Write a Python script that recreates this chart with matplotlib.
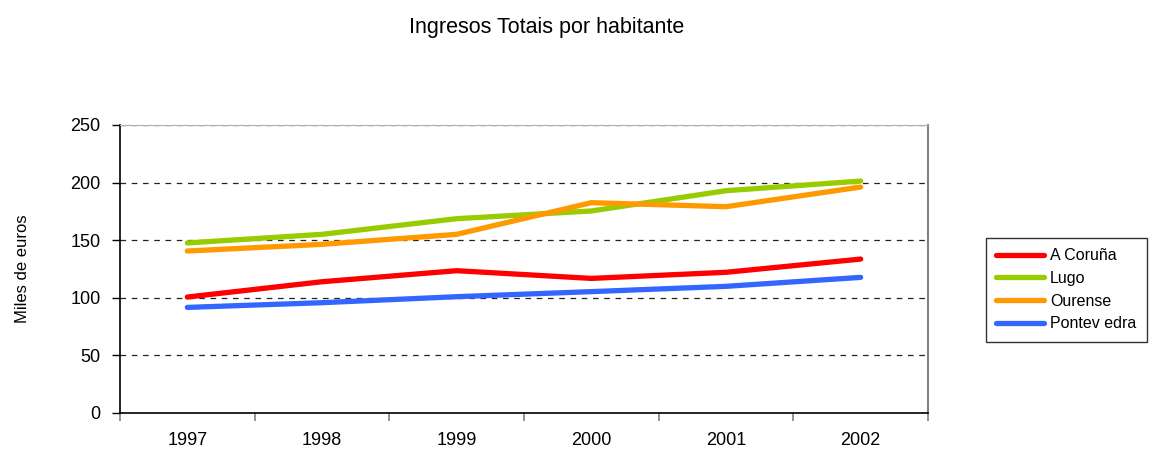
import matplotlib
matplotlib.use("Agg")
import matplotlib.pyplot as plt
from matplotlib.ticker import FixedLocator

years = ["1997", "1998", "1999", "2000", "2001", "2002"]
a_coruna = [100.5, 113.8, 123.4, 116.7, 122.0, 133.5]
lugo = [147.5, 155.0, 168.6, 175.3, 192.9, 201.3]
ourense = [140.5, 146.3, 155.0, 182.5, 179.0, 196.1]
pontevedra = [91.5, 95.6, 100.8, 105.2, 109.8, 117.6]
series_names = ["A Coruña", "Lugo", "Ourense", "Pontev edra"]
colors = ["#FF0000", "#99CC00", "#FF9900", "#3366FF"]
yticks = [0, 50, 100, 150, 200, 250]

plt.rcParams['font.family'] = ['Liberation Sans', 'DejaVu Sans']

fig = plt.figure(figsize=(11.51, 4.61), dpi=100)
ax = fig.add_axes([120/1151, 1 - 412.7/461, (928-120)/1151, (412.7-125)/461])

x = list(range(len(years)))
for vals, name, c in zip([a_coruna, lugo, ourense, pontevedra], series_names, colors):
    ax.plot(x, vals, color=c, lw=3.8, solid_capstyle='round', solid_joinstyle='round', label=name, zorder=3)

ax.set_xlim(-0.5, len(years) - 0.5)
ax.set_ylim(0, 250)
ax.set_yticks(yticks)
ax.set_yticklabels([str(v) for v in yticks], fontsize=13)
ax.set_xticks(x)
ax.set_xticklabels(years, fontsize=13)
ax.tick_params(axis='x', which='major', length=0, pad=14)
ax.xaxis.set_minor_locator(FixedLocator([i - 0.5 for i in range(len(years) + 1)]))
ax.tick_params(axis='x', which='minor', length=6, color='#808080', width=1.2, direction='out')
ax.tick_params(axis='y', which='major', length=6, width=1, direction='out', pad=8)

for v in yticks[1:]:
    ax.axhline(v, color='#222222', lw=0.9, linestyle=(0, (4.5, 4.5)), zorder=1)

ax.spines['left'].set_color('black')
ax.spines['bottom'].set_color('black')
ax.spines['left'].set_linewidth(1.2)
ax.spines['bottom'].set_linewidth(1.2)
ax.spines['right'].set_color('#808080')
ax.spines['top'].set_color('#B0B0B0')
ax.spines['right'].set_linewidth(1.5)

ax.set_ylabel("Miles de euros", fontsize=12)
ax.yaxis.set_label_coords(-90/808, 0.5)

fig.text(547/1151, 1 - 28/461, "Ingresos Totais por habitante", ha='center', va='center', fontsize=15.5)

leg = fig.legend(loc='upper left', bbox_to_anchor=(986/1151, 1 - 238/461), fontsize=11.5,
                 frameon=True, fancybox=False, edgecolor='black', handlelength=3.0,
                 handletextpad=0.35, labelspacing=0.48, borderpad=0.65, borderaxespad=0)
leg.get_frame().set_linewidth(1.0)
for line in leg.get_lines():
    line.set_linewidth(3.8)

fig.savefig("out.png", dpi=100)
